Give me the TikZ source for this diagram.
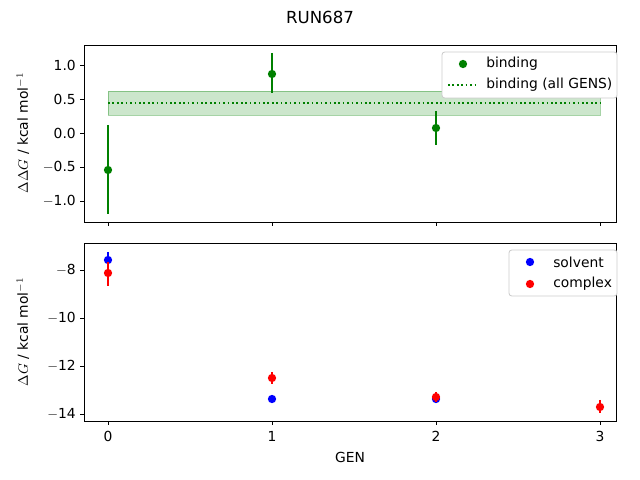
\documentclass[tikz,border=0pt]{standalone}
\usepackage{fontspec}
\setmainfont{DejaVu Sans}
\usetikzlibrary{calc}
\definecolor{mplgreen}{RGB}{0,128,0}
\begin{document}
\begin{tikzpicture}[x=0.01in,y=-0.01in,font=\fontsize{10}{12}\selectfont,
  frame/.style={draw,line width=0.6pt},
  tick/.style={line width=0.6pt},
  errbar/.style={line width=1.1pt},
  dot/.style={circle,inner sep=0pt,minimum size=6pt},
  legendbox/.style={draw=black!20,fill=white,rounded corners=2pt,line width=0.6pt}]
  \useasboundingbox (0,0) rectangle (640,480);
  \node (title) at (320,17) {\fontsize{12}{14}\selectfont RUN687};
  % top axes
  \fill[mplgreen,opacity=0.2] (108,91) rectangle (600,115);
  \draw[mplgreen,opacity=0.35,line width=0.6pt] (108,91) rectangle (600,115);
  \draw[mplgreen,dotted,line width=1.2pt] (108,103) -- (600,103);
  \foreach \x/\v/\lo/\hi in {108/170/125/214, 272/74/53/93, 436/128/111/145}{
    \draw[errbar,mplgreen] (\x,\lo) -- (\x,\hi);
    \node[dot,fill=mplgreen] at (\x,\v) {};
  }
  \draw[frame] (84,45) rectangle (616,222);
  \foreach \x in {108,272,436,600} \draw[tick] (\x,222) -- (\x,226);
  \foreach \y/\l in {65/1.0,99/0.5,133/0.0,167/{$-$0.5},201/{$-$1.0}}{
    \draw[tick] (84,\y) -- (80,\y);
    \node[anchor=east,inner sep=0pt] at (76,\y) {\l};
  }
  \node[rotate=90] (ylabtop) at (23,133) {$\Delta\Delta G$ / kcal mol$^{-1}$};
  \draw[legendbox] (442,52) rectangle (617,98);
  \node[dot,fill=mplgreen] at (463,64) {};
  \node[anchor=west,inner sep=0pt] (lbind) at (486,64) {binding};
  \draw[mplgreen,dotted,line width=1.2pt] (448,85) -- (476,85);
  \node[anchor=west,inner sep=0pt] (lall) at (486,85) {binding (all GENS)};
  % bottom axes
  \foreach \x/\v/\lo/\hi in {108/260/252/268}{
    \draw[errbar,blue] (\x,\lo) -- (\x,\hi);
    \node[dot,fill=blue] at (\x,\v) {};
  }
  \foreach \x/\v in {272/399, 436/399} \node[dot,fill=blue] at (\x,\v) {};
  \foreach \x/\v/\lo/\hi in {108/273/262/286, 272/378/372/384, 436/397/392/402, 600/407/400/413}{
    \draw[errbar,red] (\x,\lo) -- (\x,\hi);
    \node[dot,fill=red] at (\x,\v) {};
  }
  \draw[frame] (84,243) rectangle (616,421);
  \foreach \x/\l in {108/0,272/1,436/2,600/3}{
    \draw[tick] (\x,421) -- (\x,425);
    \node[anchor=north,inner sep=0pt] at (\x,431) {\l};
  }
  \foreach \y/\l in {270/{$-$8},318/{$-$10},366/{$-$12},414/{$-$14}}{
    \draw[tick] (84,\y) -- (80,\y);
    \node[anchor=east,inner sep=0pt] at (76,\y) {\l};
  }
  \node[rotate=90] (ylabbot) at (23,332) {$\Delta G$ / kcal mol$^{-1}$};
  \node (xlab) at (350,457) {GEN};
  \draw[legendbox] (509,250) rectangle (617,296);
  \node[dot,fill=blue] at (530,262) {};
  \node[anchor=west,inner sep=0pt] (lsolv) at (553,262) {solvent};
  \node[dot,fill=red] at (530,284) {};
  \node[anchor=west,inner sep=0pt] (lcomp) at (553,284) {complex};
\end{tikzpicture}
\end{document}
